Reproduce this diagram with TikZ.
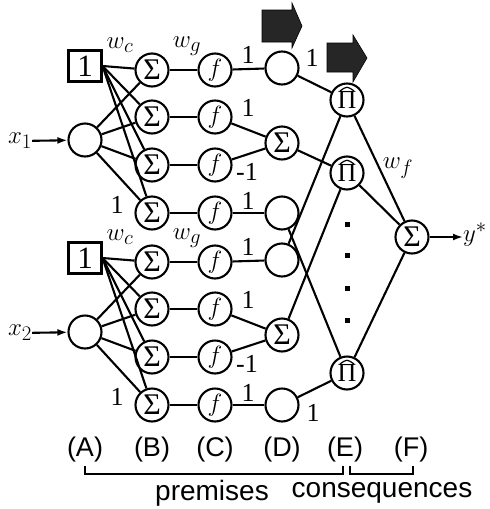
\documentclass[tikz,border=0pt]{standalone}
\usepackage{fontspec}
\setmainfont{Liberation Serif}
\newfontfamily\hv{Liberation Sans}
\usetikzlibrary{arrows.meta}
\begin{document}
\begin{tikzpicture}[x=1pt,y=-1pt,
  unit/.style={circle,draw,line width=2.1pt,minimum size=33pt,inner sep=0pt,
               font=\fontsize{30}{30}\selectfont},
  funit/.style={unit,font=\fontsize{32}{32}\selectfont},
  onebox/.style={rectangle,draw,line width=2.1pt,minimum width=33pt,minimum height=31pt,
               inner sep=0pt,font=\fontsize{31}{31}\selectfont},
  lbl/.style={inner sep=0pt,font=\fontsize{26}{26}\selectfont},
  xlbl/.style={inner sep=0pt,font=\fontsize{30}{30}\selectfont},
  layer/.style={inner sep=0pt,font=\hv\fontsize{27}{27}\selectfont},
  wire/.style={line width=2.1pt},
  feed/.style={line width=2.1pt,-{Latex[length=10pt,width=7pt]}},
  flag/.style={fill=black!85,draw=black,line width=0.6pt},
  hat/.style={line width=1.2pt},
  dotmark/.style={fill=black,inner sep=0pt,minimum size=5pt,rectangle}]
\useasboundingbox (0,0) rectangle (490,509);

% two input groups, each: constant box, input unit, four sums, four f units, layer D
\foreach \g/\o in {1/0,2/192}{
  \node[onebox] (A\g) at (85,{66+\o}) {1};
  \node[unit] (X\g) at (85,{140+\o}) {};
  \node[xlbl] (xl\g) at (20,{141+\o}) {$x_{\g}$};
  \draw[feed] (xl\g) -- (X\g);
  \foreach \r/\y in {1/70,2/117,3/165,4/213}{
    \node[unit] (B\g\r) at (152,{\y+\o}) {Σ};
    \node[funit] (C\g\r) at (215,{\y+\o}) {$f$};
    \draw[wire] (A\g.east) -- (B\g\r);
    \draw[wire] (X\g) -- (B\g\r);
    \draw[wire] (B\g\r) -- (C\g\r);
  }
  \node[unit] (D\g1) at (282,{68+\o}) {};
  \node[unit] (D\g2) at (282,{143+\o}) {Σ};
  \node[unit] (D\g4) at (282,{213+\o}) {};
  \draw[wire] (C\g1) -- (D\g1);
  \draw[wire] (C\g2) -- (D\g2);
  \draw[wire] (C\g3) -- (D\g2);
  \draw[wire] (C\g4) -- (D\g4);
  \node[xlbl] at (120,{45+\o}) {$w_c$};
  \node[xlbl] at (187,{46+\o}) {$w_g$};
  \node[lbl] at (117,{205+\o}) {1};
  \node[lbl] at (248,{55+\o}) {1};
  \node[lbl] at (248,{108+\o}) {1};
  \node[lbl] at (247,{172+\o}) {-1};
  \node[lbl] at (248,{201+\o}) {1};
}

% rule layer (E) and output layer (F)
\foreach \n/\yy in {E1/100,E2/173,E3/373}{
  \node[unit,font=\fontsize{26}{26}\selectfont] (\n) at (347,\yy) {\raisebox{-2pt}{Π}};
  \draw[hat] ([shift={(-7,-9)}]\n.center) .. controls ([shift={(0,-14)}]\n.center) .. ([shift={(7,-9)}]\n.center);
}
\node[unit] (F) at (412,237) {Σ};
\foreach \yy in {224,255,288,320}
  \node[dotmark] at (347,\yy) {};

\draw[wire] (D11) -- (E1);
\draw[wire] (D21) -- (E1);
\draw[wire] (D12) -- (E2);
\draw[wire] (D22) -- (E2);
\draw[wire] (D14) -- (E3);
\draw[wire] (D24) -- (E3);
\draw[wire] (E1) -- (F);
\draw[wire] (E2) -- (F);
\draw[wire] (E3) -- (F);

\node[lbl] at (312,58) {1};
\node[lbl] at (313,413) {1};
\node[xlbl] at (398,168) {$w_f$};
\node[xlbl,anchor=west] (yout) at (463,235) {$y^{*}$};
\draw[feed] (F) -- (F -| yout.west);

% shaded block arrows above layers D and E
\draw[flag] (262,10) -- (292,10) -- (292,3) -- (302,26) -- (292,48) -- (292,42) -- (262,42) -- cycle;
\draw[flag] (327,43) -- (353,43) -- (353,35) -- (367,58) -- (353,82) -- (353,72) -- (327,72) -- cycle;

% layer letters and brackets
\node[layer] (lA) at (85,450) {(A)};
\node[layer] (lB) at (152,450) {(B)};
\node[layer] (lC) at (215,450) {(C)};
\node[layer] (lD) at (282,450) {(D)};
\node[layer] (lE) at (345,450) {(E)};
\node[layer] (lF) at (411,450) {(F)};
\draw[line width=1.4pt] (85,466) -- (85,474) -- (343,474) -- (343,466);
\draw[line width=1.4pt] (350,466) -- (350,474) -- (413,474) -- (413,466);
\node[layer,font=\hv\fontsize{28}{28}\selectfont] at (212,493) {premises};
\node[layer,font=\hv\fontsize{28}{28}\selectfont] at (382,493) {consequences};
\end{tikzpicture}
\end{document}
